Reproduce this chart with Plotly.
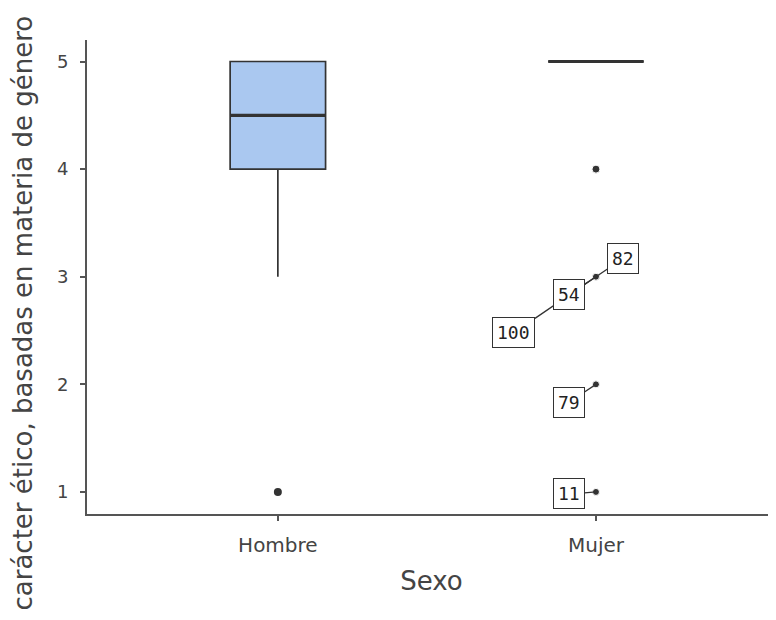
import plotly.graph_objects as go

# ---- data ----
categories = ["Hombre", "Mujer"]
cat_pos = [1, 2]
q1 = [4, 5]
median = [4.5, 5]
q3 = [5, 5]
lower_fence = [3, 5]
upper_fence = [5, 5]

hombre_outliers = [1]
mujer_outliers = [4, 3, 3, 3, 2, 1]

label_ids = ["100", "54", "82", "79", "11"]
label_values = [3, 3, 3, 2, 1]
label_dx = [-82, -27, 27, -27, -27]
label_dy = [56, 18, -18, 18, 2]

y_title = "carácter ético, basadas en materia de género"
x_title = "Sexo"

FILL = "#aac8f0"
DARK = "#333333"
AX = "#555555"
BOXW = 0.3

# page body adds an 8px offset; layout compensates
L, R, T, B = 79, 8, 32, 114
PW = 776 - L - R
PH = 620 - T - B

fig = go.Figure()
for i, c in enumerate(categories):
    fig.add_trace(go.Box(
        x=[cat_pos[i]], q1=[q1[i]], median=[median[i]], q3=[q3[i]],
        lowerfence=[lower_fence[i]], upperfence=[upper_fence[i]],
        width=BOXW, whiskerwidth=0, fillcolor=FILL if q1[i] != q3[i] else "rgba(0,0,0,0)",
        line=dict(color=DARK, width=1.7), boxpoints=False, showlegend=False,
        hoverinfo="skip"))
    fig.add_trace(go.Scatter(
        x=[cat_pos[i] - BOXW / 2, cat_pos[i] + BOXW / 2], y=[median[i], median[i]],
        mode="lines", line=dict(color=DARK, width=3.2), showlegend=False, hoverinfo="skip"))

fig.add_trace(go.Scatter(x=[cat_pos[0]] * len(hombre_outliers), y=hombre_outliers,
                         mode="markers", marker=dict(color=DARK, size=8, opacity=1),
                         showlegend=False))
fig.add_trace(go.Scatter(x=[cat_pos[1]] * len(mujer_outliers), y=mujer_outliers,
                         mode="markers",
                         marker=dict(color=DARK, size=[8, 7, 7, 7, 7, 7], opacity=1),
                         showlegend=False))

for lid, v, dx, dy in zip(label_ids, label_values, label_dx, label_dy):
    fig.add_annotation(x=cat_pos[1], y=v, xref="x", yref="y", text=lid,
                       showarrow=True, arrowhead=0, arrowwidth=1.3, arrowcolor=DARK,
                       standoff=0, startstandoff=0, ax=dx, ay=dy,
                       bgcolor="white", bordercolor=DARK, borderwidth=1, borderpad=4,
                       font=dict(family="DejaVu Sans Mono", size=18, color="#222"))

fig.add_annotation(text=y_title, textangle=-90, xref="paper", yref="paper",
                   x=(14 - L) / PW, y=1 + (T - 6) / PH, xanchor="center", yanchor="top",
                   showarrow=False, font=dict(family="DejaVu Sans", size=26, color="#444"))

fig.update_layout(
    width=776, height=620, paper_bgcolor="white", plot_bgcolor="white",
    margin=dict(l=L, r=R, t=T, b=B, autoexpand=False),
    font=dict(family="DejaVu Sans", color="#444"),
    xaxis=dict(range=[0.4, 2.566], tickvals=cat_pos, ticktext=categories,
               showgrid=False, zeroline=False, showline=True, linecolor=AX, linewidth=2,
               ticks="outside", ticklen=5, tickcolor=AX, tickwidth=1.5,
               tickfont=dict(size=20, color="#444"), ticklabelstandoff=7,
               title=dict(text=x_title, font=dict(size=26, color="#444"), standoff=16)),
    yaxis=dict(range=[0.795, 5.2], tickvals=[1, 2, 3, 4, 5],
               showgrid=False, zeroline=False, showline=True, linecolor=AX, linewidth=2,
               ticks="outside", ticklen=5, tickcolor=AX, tickwidth=1.5,
               tickfont=dict(size=18, color="#444"), ticklabelstandoff=8),
)

fig.write_html("out.html")
